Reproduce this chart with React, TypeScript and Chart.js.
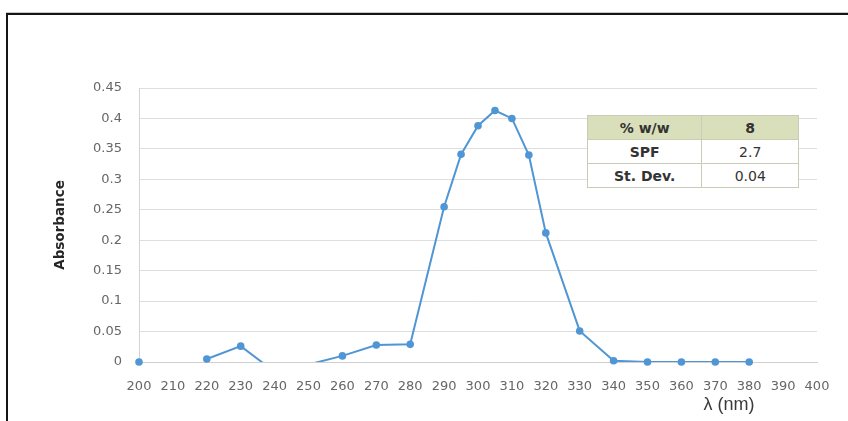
import { useEffect, useRef } from "react";
import { Chart, registerables } from "chart.js";

Chart.register(...registerables);

// UV absorbance spectrum (wavelength in nm)
const wavelengths = [200, 210, 220, 230, 240, 250, 260, 270, 280, 290, 295, 300, 305, 310, 315, 320, 330, 340, 350, 360, 370, 380];
const absorbance: (number | null)[] = [0.0, null, 0.005, 0.026, -0.016, -0.004, 0.01, 0.028, 0.029, 0.255, 0.341, 0.388, 0.413, 0.4, 0.34, 0.212, 0.051, 0.002, 0.0, 0.0, 0.0, 0.0];

const xMin = 200;
const xMax = 400;
const xStep = 10;
const yMin = 0;
const yMax = 0.45;
const yStep = 0.05;

// summary table
const tableLabels = ["% w/w", "SPF", "St. Dev."];
const tableValues = ["8", "2.7", "0.04"];

const BLUE = "#5096d5";
const TICK_FONT = { family: "'DejaVu Sans', sans-serif", size: 13 };

export default function App() {
  const canvasRef = useRef<HTMLCanvasElement | null>(null);

  useEffect(() => {
    document.body.style.margin = "0";
    document.body.style.overflow = "hidden";
    const canvas = canvasRef.current;
    if (!canvas) return;
    const points = wavelengths.map((x, i) => ({ x, y: absorbance[i] }));
    const chart = new Chart(canvas, {
      type: "line",
      data: {
        datasets: [
          {
            label: "line",
            data: points as any,
            borderColor: BLUE,
            borderWidth: 2,
            pointRadius: 0,
            spanGaps: false,
            tension: 0,
            clip: 0 as any,
          },
          {
            label: "markers",
            data: points as any,
            showLine: false,
            backgroundColor: BLUE,
            borderColor: BLUE,
            borderWidth: 0,
            pointRadius: (c: any) => {
              const v = c.raw && c.raw.y;
              return v == null || v < 0 ? 0 : 3.8;
            },
            clip: 6 as any,
          },
        ],
      },
      options: {
        animation: false,
        responsive: false,
        events: [],
        layout: { padding: { left: 0, right: 31, top: 88, bottom: 0 } },
        plugins: { legend: { display: false }, tooltip: { enabled: false } },
        scales: {
          x: {
            type: "linear",
            min: xMin,
            max: xMax,
            afterFit: (s: any) => {
              s.height = 59;
            },
            ticks: {
              stepSize: xStep,
              padding: 17,
              color: "#666",
              font: TICK_FONT,
              maxRotation: 0,
              autoSkip: false,
              callback: (v: any) => String(v),
            },
            grid: { display: false, drawTicks: false },
            border: { display: true, color: "#cfcfcf", width: 1 },
          },
          y: {
            min: yMin,
            max: yMax,
            afterFit: (s: any) => {
              s.width = 139;
            },
            ticks: {
              stepSize: yStep,
              padding: 17,
              color: "#666",
              font: TICK_FONT,
              callback: (v: any) => String(Math.round(Number(v) * 100) / 100),
            },
            grid: { color: "#dedede", lineWidth: 1, drawTicks: false },
            border: { display: true, color: "#d4d4d4", width: 1 },
            title: {
              display: true,
              text: "Absorbance",
              color: "#262626",
              font: { family: "'DejaVu Sans', sans-serif", size: 13.5, weight: "bold" },
              padding: { top: 52, bottom: 0 },
            },
          },
        },
      },
    });
    return () => chart.destroy();
  }, []);

  const cell: React.CSSProperties = {
    border: "1px solid #c9ccb8",
    height: 23,
    padding: 0,
    textAlign: "center",
    verticalAlign: "middle",
    fontFamily: "'DejaVu Sans', sans-serif",
    fontSize: 14,
    color: "#333",
  };

  return (
    <div style={{ position: "fixed", left: 0, top: 0, width: 848, height: 421, overflow: "hidden", background: "#fff" }}>
      <div
        style={{
          position: "absolute",
          left: 6,
          top: 13,
          width: 900,
          height: 500,
          borderTop: "2px solid #151515",
          borderLeft: "2px solid #151515",
          boxShadow: "0 -1px 0 #c8c8c8",
        }}
      />
      <canvas ref={canvasRef} width={848} height={421} style={{ position: "absolute", left: 0, top: 0 }} />
      <table
        style={{
          position: "absolute",
          left: 587,
          top: 115,
          width: 212,
          borderCollapse: "collapse",
          background: "#fff",
        }}
      >
        <colgroup>
          <col style={{ width: 115 }} />
          <col style={{ width: 97 }} />
        </colgroup>
        <tbody>
          {tableLabels.map((label, i) => (
            <tr key={label} style={{ background: i === 0 ? "#d8dfba" : "#fff" }}>
              <td style={{ ...cell, fontWeight: "bold" }}>{label}</td>
              <td style={{ ...cell, fontWeight: i === 0 ? "bold" : "normal" }}>{tableValues[i]}</td>
            </tr>
          ))}
        </tbody>
      </table>
      <div
        style={{
          position: "absolute",
          left: 729,
          top: 404,
          transform: "translate(-50%, -50%)",
          whiteSpace: "nowrap",
          fontFamily: "'Liberation Sans', sans-serif",
          fontSize: 18,
          color: "#3a3a3a",
        }}
      >
        λ (nm)
      </div>
    </div>
  );
}
